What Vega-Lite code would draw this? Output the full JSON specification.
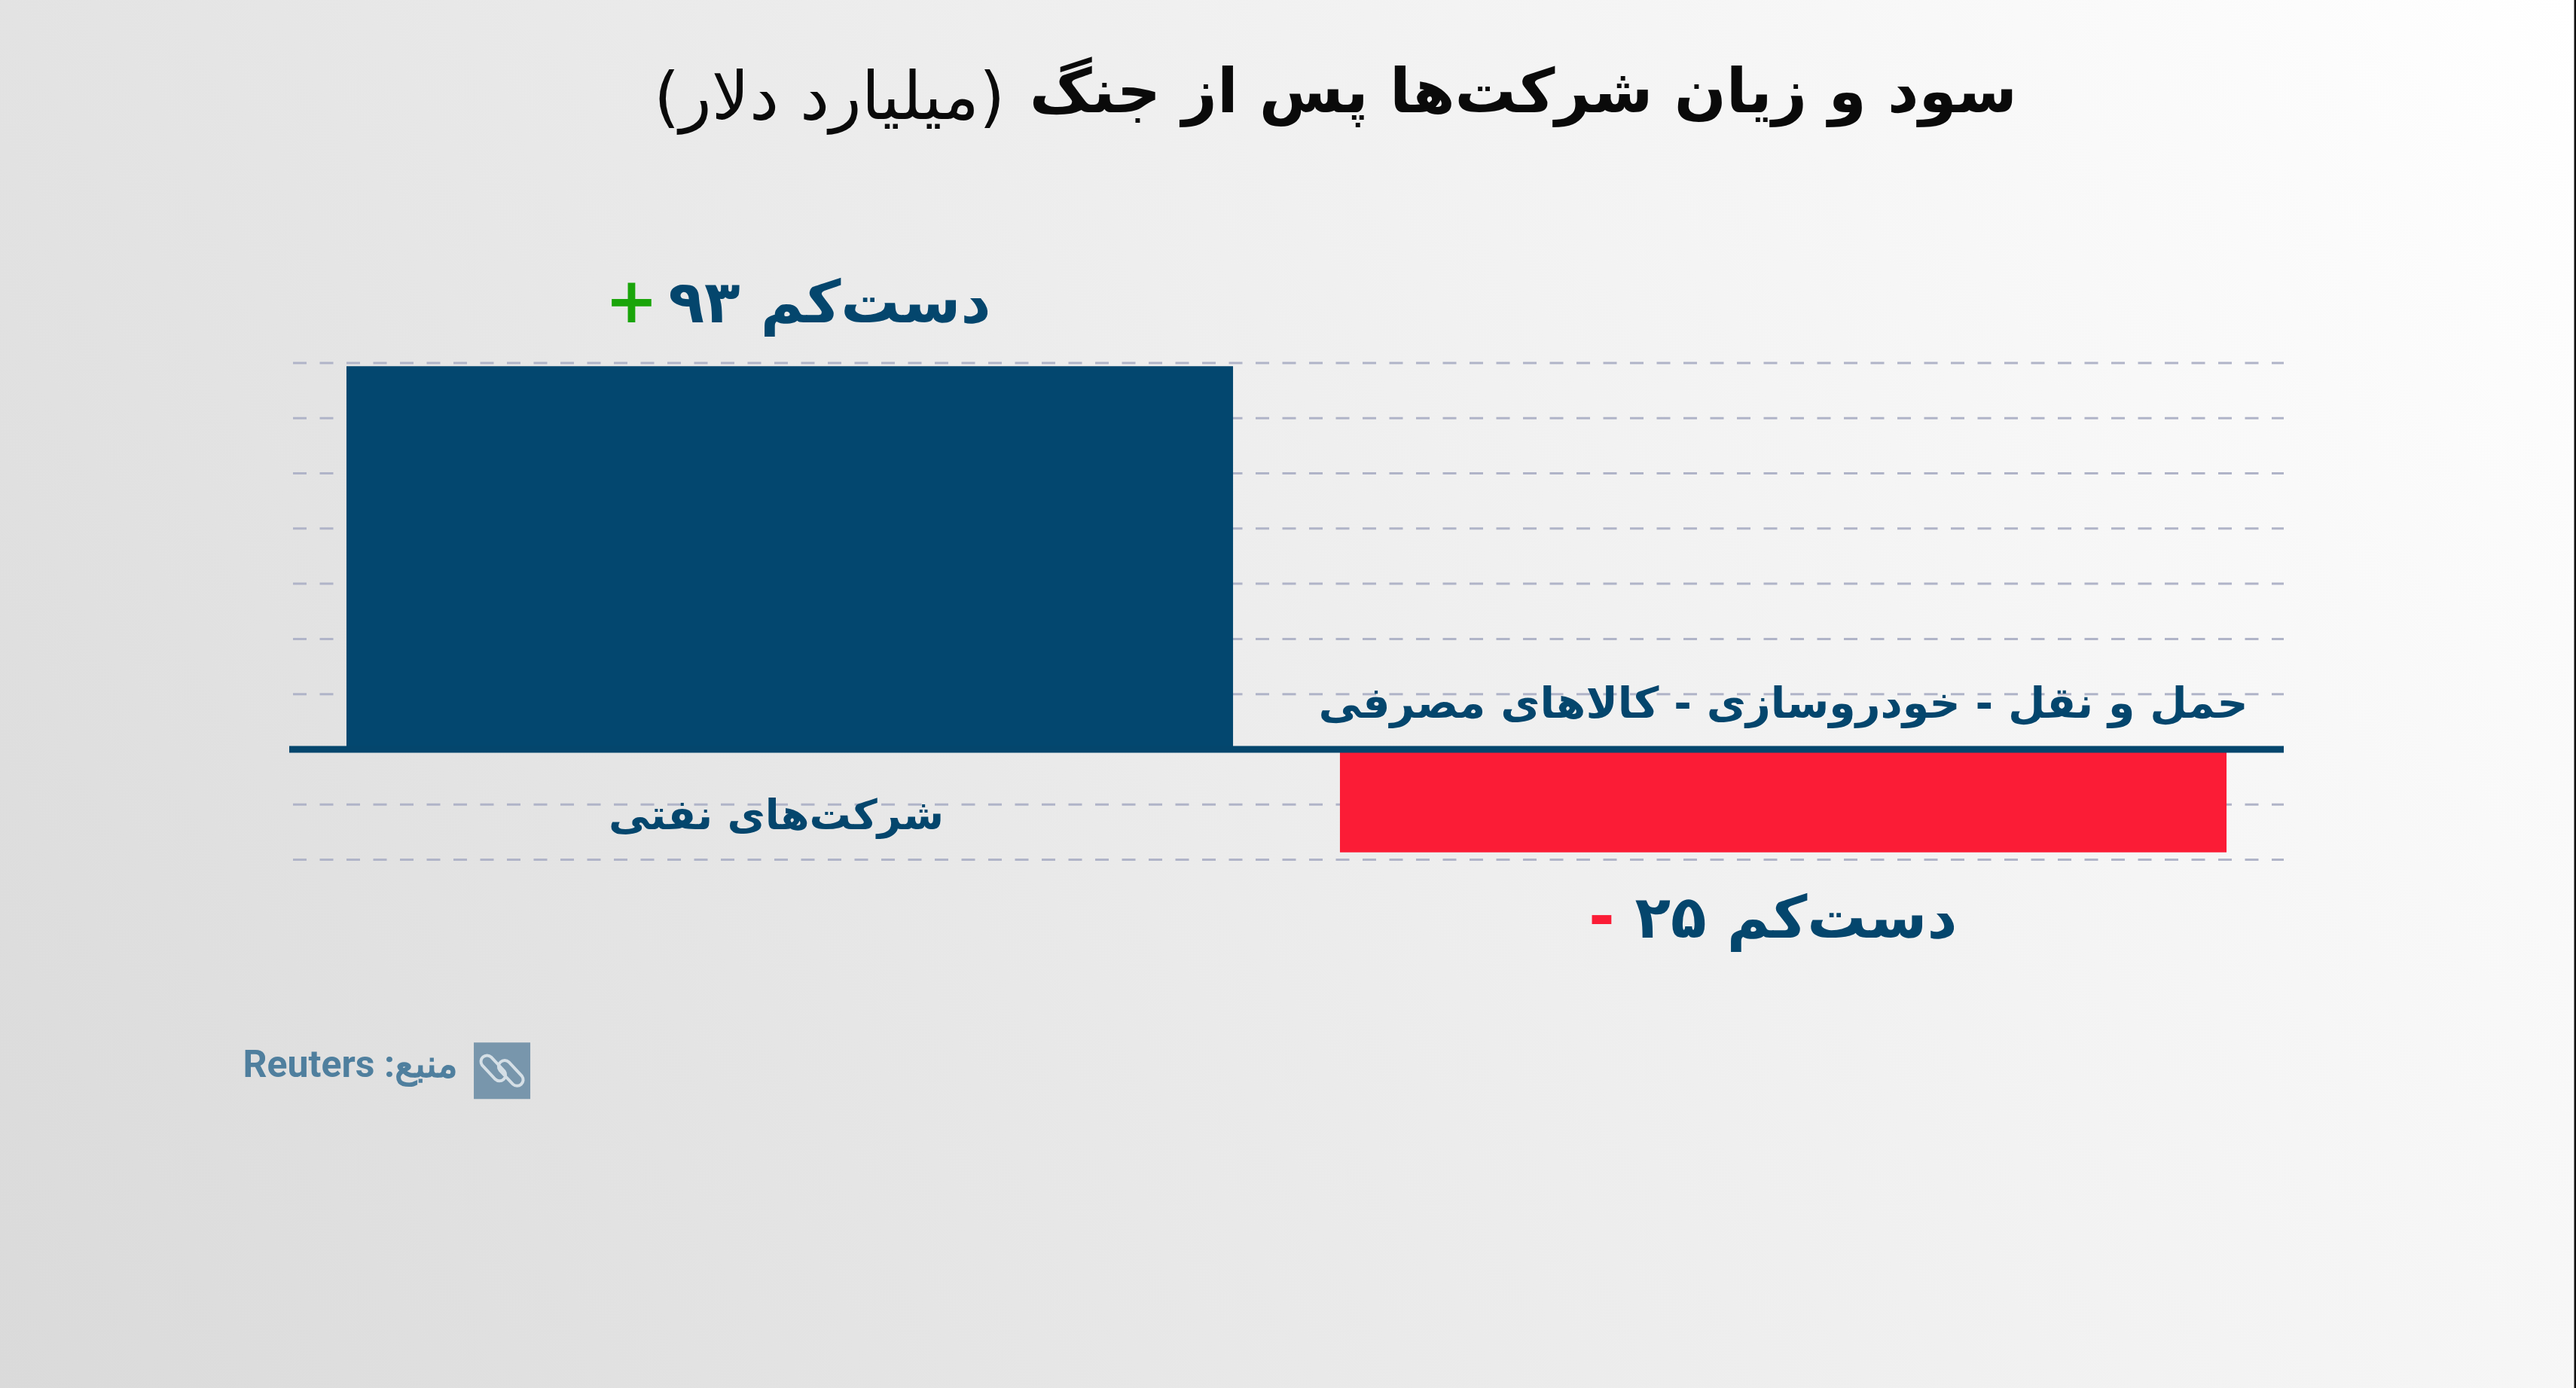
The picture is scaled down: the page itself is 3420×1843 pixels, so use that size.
{
  "$schema": "https://vega.github.io/schema/vega-lite/v6.json",
  "width": 3420,
  "height": 1843,
  "autosize": "none",
  "padding": 0,
  "background": "#eeeeee",
  "title": {
    "text": "سود و زیان شرکت‌ها پس از جنگ",
    "anchor": "end",
    "frame": "group",
    "dx": -742,
    "offset": -167,
    "font": "DejaVu Sans",
    "fontSize": 81,
    "fontWeight": "bold",
    "color": "#0a0a0a"
  },
  "config": {"view": {"stroke": null}, "text": {"font": "DejaVu Sans"}},
  "datasets": {
    "sectors": [
      {"sector": "شرکت‌های نفتی", "value": 93, "label": "دست‌کم ۹۳", "sign": "+"},
      {"sector": "حمل و نقل - خودروسازی - کالاهای مصرفی", "value": -25, "label": "دست‌کم ۲۵", "sign": "-"}
    ],
    "grid": [
      {"level": 93.8}, {"level": 80.4}, {"level": 67}, {"level": 53.6}, {"level": 40.2},
      {"level": 26.8}, {"level": 13.4}, {"level": -13.4}, {"level": -26.8}
    ]
  },
  "layer": [
    {
      "data": {"values": [{"name": "background"}]},
      "mark": {
        "type": "rect",
        "fill": {
          "gradient": "linear",
          "x1": -0.0975, "y1": 0.684, "x2": 1.0975, "y2": 0.316,
          "stops": [
            {"offset": 0, "color": "#dadada"},
            {"offset": 0.5, "color": "#ededed"},
            {"offset": 1, "color": "#ffffff"}
          ]
        }
      },
      "encoding": {}
    },
    {
      "encoding": {
        "x": {"datum": 0, "type": "quantitative", "axis": null, "scale": {"domain": [0, 1], "range": [384, 3032]}}
      },
      "layer": [
        {
          "data": {"name": "grid"},
          "mark": {"type": "rule", "color": "#b0b4c8", "strokeWidth": 3, "strokeDash": [18, 17.5], "strokeDashOffset": 30.5},
          "encoding": {
            "x2": {"datum": 1},
            "y": {"field": "level", "type": "quantitative", "axis": null, "scale": {"domain": [-155.03, 181.9], "nice": false, "zero": false}}
          }
        },
        {
          "data": {"values": [{"name": "source"}]},
          "layer": [
            {
              "mark": {"type": "point", "shape": "square", "filled": true, "color": "#7896ac", "size": 5625, "opacity": 1},
              "encoding": {
                "x": {"datum": 0.1067, "type": "quantitative"},
                "y": {"datum": -78, "type": "quantitative"}
              }
            },
            {
              "mark": {
                "type": "point",
                "shape": "M-0.88 -0.24L-0.30 0.38A0.27 0.27 0 0 0 0.10 0.02L-0.48 -0.60A0.27 0.27 0 0 0 -0.88 -0.24ZM-0.10 -0.02L0.48 0.60A0.27 0.27 0 0 0 0.88 0.24L0.30 -0.38A0.27 0.27 0 0 0 -0.10 -0.02Z",
                "filled": false,
                "stroke": "#d5dfe6",
                "strokeWidth": 4,
                "size": 3600,
                "opacity": 1
              },
              "encoding": {
                "x": {"datum": 0.1067, "type": "quantitative"},
                "y": {"datum": -78, "type": "quantitative"}
              }
            },
            {
              "mark": {"type": "text", "text": "‫منبع: Reuters‬", "align": "right", "baseline": "alphabetic", "font": "Roboto", "fontWeight": "bold", "fontSize": 50, "color": "#4f7f9e"},
              "encoding": {
                "x": {"datum": 0.0846, "type": "quantitative"},
                "y": {"datum": -79.5, "type": "quantitative"}
              }
            },
            {
              "mark": {"type": "text", "text": "(میلیارد دلار)", "align": "center", "baseline": "alphabetic", "fontSize": 88, "color": "#0a0a0a"},
              "encoding": {
                "x": {"datum": 0.2708, "type": "quantitative"},
                "y": {"datum": 153, "type": "quantitative"}
              }
            }
          ]
        }
      ]
    },
    {
      "data": {"name": "sectors"},
      "encoding": {
        "x": {
          "field": "sector",
          "type": "nominal",
          "axis": null,
          "sort": null,
          "scale": {"range": [384, 3032], "paddingInner": 0.1076, "paddingOuter": 0.0576}
        }
      },
      "layer": [
        {
          "mark": {"type": "bar"},
          "encoding": {
            "y": {"field": "value", "type": "quantitative", "axis": null},
            "color": {"field": "sign", "type": "nominal", "legend": null, "scale": {"domain": ["+", "-"], "range": ["#03476f", "#fb1c36"]}}
          }
        },
        {
          "transform": [{"filter": "datum.value > 0"}],
          "layer": [
            {
              "mark": {"type": "text", "fontSize": 78, "fontWeight": "bold", "color": "#04466d", "dx": 53, "dy": -58, "baseline": "alphabetic"},
              "encoding": {"y": {"field": "value", "type": "quantitative"}, "text": {"field": "label"}}
            },
            {
              "mark": {"type": "text", "fontSize": 84, "fontWeight": "bold", "color": "#1aa50a", "dx": -210, "dy": -58, "baseline": "alphabetic"},
              "encoding": {"y": {"field": "value", "type": "quantitative"}, "text": {"field": "sign"}}
            },
            {
              "mark": {"type": "text", "fontSize": 55, "fontWeight": "bold", "color": "#04466d", "dx": -18, "dy": 106, "baseline": "alphabetic"},
              "encoding": {"y": {"datum": 0, "type": "quantitative"}, "text": {"field": "sector"}}
            }
          ]
        },
        {
          "transform": [{"filter": "datum.value < 0"}],
          "layer": [
            {
              "mark": {"type": "text", "fontSize": 78, "fontWeight": "bold", "color": "#04466d", "dx": 17, "dy": 113, "baseline": "alphabetic"},
              "encoding": {"y": {"field": "value", "type": "quantitative"}, "text": {"field": "label"}}
            },
            {
              "mark": {"type": "text", "fontSize": 84, "fontWeight": "bold", "color": "#fb1c36", "dx": -241, "dy": 113, "baseline": "alphabetic"},
              "encoding": {"y": {"field": "value", "type": "quantitative"}, "text": {"field": "sign"}}
            },
            {
              "mark": {"type": "text", "fontSize": 57, "fontWeight": "bold", "color": "#04466d", "dy": -42, "baseline": "alphabetic"},
              "encoding": {"y": {"datum": 0, "type": "quantitative"}, "text": {"field": "sector"}}
            }
          ]
        }
      ]
    },
    {
      "data": {"values": [{"name": "baseline"}]},
      "mark": {"type": "rule", "color": "#04466d", "strokeWidth": 9},
      "encoding": {
        "x": {"datum": 0, "type": "quantitative", "axis": null, "scale": {"domain": [0, 1], "range": [384, 3032]}},
        "x2": {"datum": 1},
        "y": {"datum": 0, "type": "quantitative"}
      }
    },
    {
      "data": {"values": [{"name": "edge"}]},
      "mark": {"type": "rule", "color": "#111111", "strokeWidth": 3},
      "encoding": {"x": {"value": 3419}}
    }
  ],
  "resolve": {"scale": {"x": "independent"}}
}
